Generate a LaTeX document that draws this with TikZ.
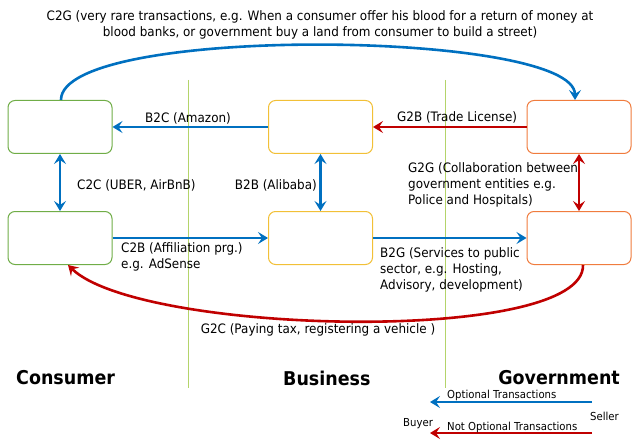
\documentclass[tikz,border=0pt]{standalone}
\usepackage{fontspec}
\setmainfont{DejaVu Sans}[FakeStretch=0.92]
\usetikzlibrary{arrows.meta}
\definecolor{optblue}{HTML}{0070C0}
\definecolor{mustred}{HTML}{C00000}
\definecolor{consgreen}{HTML}{70AD47}
\definecolor{busyellow}{HTML}{F2C037}
\definecolor{govorange}{HTML}{F07C3E}
\definecolor{laneline}{HTML}{B4D46A}
\tikzset{
  party/.style={draw, line width=1pt, rounded corners=7pt, fill=white,
    minimum width=104pt, minimum height=53pt, inner sep=0pt},
  flow/.style={line width=2.6pt, -{Stealth[length=10pt,width=12pt,inset=4pt]}},
  twoway/.style={line width=2.6pt, {Stealth[length=10pt,width=12pt,inset=4pt]}-{Stealth[length=10pt,width=12pt,inset=4pt]}},
  lbl/.style={font=\fontsize{13}{16}\selectfont, inner sep=0pt, align=left},
  lane/.style={font=\fontsize{19}{22}\selectfont\bfseries, inner sep=0pt},
  legend/.style={font=\fontsize{11}{12}\selectfont, inner sep=0pt}
}
\begin{document}
\begin{tikzpicture}[x=1pt,y=-1pt]
\useasboundingbox (0,0) rectangle (632,441);

% lane separators
\draw[laneline, line width=1pt] (188,80) -- (188,388);
\draw[laneline, line width=1pt] (445,80) -- (445,388);

% parties
\node[party, draw=consgreen] (ctop) at (60,127) {};
\node[party, draw=consgreen] (cbot) at (60,238) {};
\node[party, draw=busyellow] (btop) at (320.5,127) {};
\node[party, draw=busyellow] (bbot) at (320.5,238) {};
\node[party, draw=govorange] (gtop) at (579,127) {};
\node[party, draw=govorange] (gbot) at (579,238) {};

% straight transactions
\draw[flow, optblue] (btop.west) -- (ctop.east);
\draw[flow, mustred] (gtop.west) -- (btop.east);
\draw[flow, optblue] (cbot.east) -- (bbot.west);
\draw[flow, optblue] (bbot.east) -- (gbot.west);
\draw[twoway, optblue] (ctop.south) -- (cbot.north);
\draw[twoway, optblue] (btop.south) -- (bbot.north);
\draw[twoway, mustred] (gtop.south) -- (gbot.north);

% curved transactions
\draw[flow, optblue] ([xshift=1pt]ctop.north) .. controls (61,24) and (575,30) .. ([xshift=-4pt]gtop.north);
\draw[flow, mustred] ([xshift=4pt]gbot.south) .. controls (585,345) and (140,335) .. ([xshift=8pt]cbot.south);

% transaction labels
\node[lbl, anchor=west] (lb2c) at (145,118) {B2C (Amazon)};
\node[lbl, anchor=west] (lg2b) at (397,117) {G2B (Trade License)};
\node[lbl, anchor=west] (lc2c) at (77,185) {C2C (UBER, AirBnB)};
\node[lbl, anchor=east] (lb2b) at (317,185) {B2B (Alibaba)};
\node[lbl, anchor=north west] (lg2g) at (408,162) {G2G (Collaboration between\\government entities e.g.\\Police and Hospitals)};
\node[lbl, anchor=north west] (lc2b) at (121,242) {C2B (Affiliation prg.)\\e.g. AdSense};
\node[lbl, anchor=north west] (lb2g) at (380,247) {B2G (Services to public\\sector, e.g. Hosting,\\Advisory, development)};
\node[lbl, anchor=center] (lg2c) at (318,330) {G2C (Paying tax, registering a vehicle )};
\node[lbl, align=center, anchor=center] (lc2g) at (320,25) {C2G (very rare transactions, e.g. When a consumer offer his blood for a return of money at\\blood banks, or government buy a land from consumer to build a street)};

% lane titles
\node[lane, anchor=west] (tcons) at (16,378) {Consumer};
\node[lane, anchor=west] (tbus) at (283,378) {Business};
\node[lane, anchor=east] (tgov) at (620,378) {Government};

% legend
\coordinate (optfrom) at (592,402);
\coordinate (optto) at (430,402);
\coordinate (musfrom) at (592,433);
\coordinate (musto) at (430,433);
\draw[flow, optblue] (optfrom) -- (optto);
\draw[flow, mustred] (musfrom) -- (musto);
\node[legend, anchor=base west] (lopt) at (447,398) {Optional Transactions};
\node[legend, anchor=base west] (lmus) at (447,430) {Not Optional Transactions};
\node[legend, anchor=west] (lbuyer) at (403,424) {Buyer};
\node[legend, anchor=west] (lseller) at (590,416) {Seller};
\end{tikzpicture}
\end{document}
